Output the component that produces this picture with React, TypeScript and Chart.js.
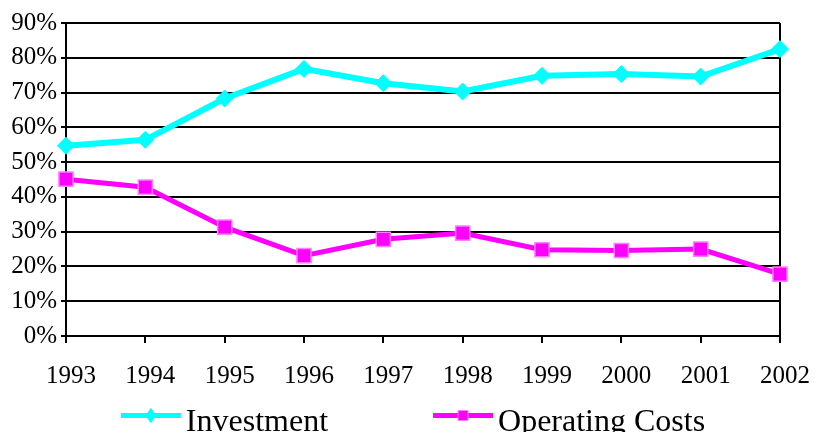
import React, { useEffect, useRef } from "react";
import { Chart, registerables } from "chart.js";

Chart.register(...registerables);

const years = ["1993", "1994", "1995", "1996", "1997", "1998", "1999", "2000", "2001", "2002"];
const investment = [54.7, 56.4, 68.3, 76.8, 72.7, 70.3, 74.8, 75.3, 74.6, 82.5];
const operatingCosts = [45.1, 42.8, 31.3, 23.1, 27.8, 29.6, 24.8, 24.6, 25.0, 17.8];
const yMin = 0;
const yMax = 90;
const yStep = 10;

const FONT = '"Liberation Serif", "Times New Roman", serif';

const legendPlugin = {
  id: "bottomLegend",
  afterDraw(chart: any) {
    const ctx = chart.ctx as CanvasRenderingContext2D;
    const ds = chart.data.datasets;
    ctx.save();
    ctx.font = `32px ${FONT}`;
    const sampleW = 60;
    const gap = 5;
    const itemGap = 105;
    const widths = ds.map((d: any) => ctx.measureText(d.label).width);
    let total = 0;
    widths.forEach((w: number, i: number) => {
      total += sampleW + gap + w + (i < widths.length - 1 ? itemGap : 0);
    });
    let x = chart.width / 2 + 5 - total / 2;
    const lineY = 415.5;
    const baseY = 431;
    ds.forEach((d: any, i: number) => {
      ctx.strokeStyle = d.borderColor;
      ctx.lineWidth = 5;
      ctx.beginPath();
      ctx.moveTo(x, lineY);
      ctx.lineTo(x + sampleW, lineY);
      ctx.stroke();
      const cx = x + sampleW / 2;
      ctx.fillStyle = d.pointBackgroundColor;
      ctx.strokeStyle = d.pointBorderColor;
      ctx.lineWidth = 1;
      ctx.beginPath();
      if (d.pointStyle === "rectRot") {
        ctx.moveTo(cx, lineY - 7);
        ctx.lineTo(cx + 5, lineY);
        ctx.lineTo(cx, lineY + 7);
        ctx.lineTo(cx - 5, lineY);
        ctx.closePath();
      } else {
        ctx.rect(cx - 5, lineY - 5, 10, 10);
      }
      ctx.fill();
      ctx.stroke();
      ctx.fillStyle = "#000";
      ctx.textBaseline = "alphabetic";
      ctx.textAlign = "left";
      ctx.fillText(d.label, x + sampleW + gap, baseY);
      x += sampleW + gap + widths[i] + itemGap;
    });
    ctx.restore();
  },
};

export default function App() {
  const ref = useRef<HTMLCanvasElement | null>(null);
  useEffect(() => {
    if (!ref.current) return;
    const chart = new Chart(ref.current, {
      type: "line",
      data: {
        labels: years,
        datasets: [
          {
            label: "Investment",
            data: investment,
            borderColor: "#00FFFF",
            backgroundColor: "#00FFFF",
            borderWidth: 6,
            pointStyle: "rectRot",
            pointRadius: 8.5,
            pointBackgroundColor: "#00FFFF",
            pointBorderColor: "#00FFFF",
            pointBorderWidth: 1,
            tension: 0,
            clip: false,
          } as any,
          {
            label: "Operating Costs",
            data: operatingCosts,
            borderColor: "#FF00FF",
            backgroundColor: "#FF00FF",
            borderWidth: 5,
            pointStyle: "rect",
            pointRadius: 10,
            pointBackgroundColor: "#FF00FF",
            pointBorderColor: "#FF80FF",
            pointBorderWidth: 1.5,
            tension: 0,
            clip: false,
          } as any,
        ],
      },
      options: {
        animation: false,
        responsive: true,
        maintainAspectRatio: false,
        layout: { padding: { top: 23, right: 36, left: 0, bottom: 0 } },
        plugins: {
          legend: { display: false },
          tooltip: { enabled: false },
        },
        scales: {
          x: {
            offset: false,
            afterFit: (s: any) => {
              s.height = 96;
              s.paddingLeft = 0;
              s.paddingRight = 0;
            },
            grid: {
              color: (c: any) => (c.index === years.length - 1 ? "#000" : "rgba(0,0,0,0)"),
              tickColor: "#000",
              lineWidth: 2,
              tickLength: 7,
              drawOnChartArea: true,
            },
            border: { display: true, color: "#000", width: 2 },
            ticks: {
              color: "#000",
              font: { family: FONT, size: 25 },
              padding: 18,
              labelOffset: 5,
              maxRotation: 0,
              autoSkip: false,
            },
          },
          y: {
            min: yMin,
            max: yMax,
            afterFit: (s: any) => {
              s.width = 66;
            },
            grid: {
              color: "#000",
              lineWidth: 2,
              tickLength: 5,
            },
            border: { display: true, color: "#000", width: 2 },
            ticks: {
              stepSize: yStep,
              color: "#000",
              font: { family: FONT, size: 25 },
              padding: 4,
              callback: (v: any) => `${v}%`,
            },
          },
        },
      },
      plugins: [legendPlugin],
    });
    return () => chart.destroy();
  }, []);
  return (
    <div style={{ position: "absolute", left: 0, top: 0, width: 816, height: 432, background: "#fff" }}>
      <canvas ref={ref} />
    </div>
  );
}
